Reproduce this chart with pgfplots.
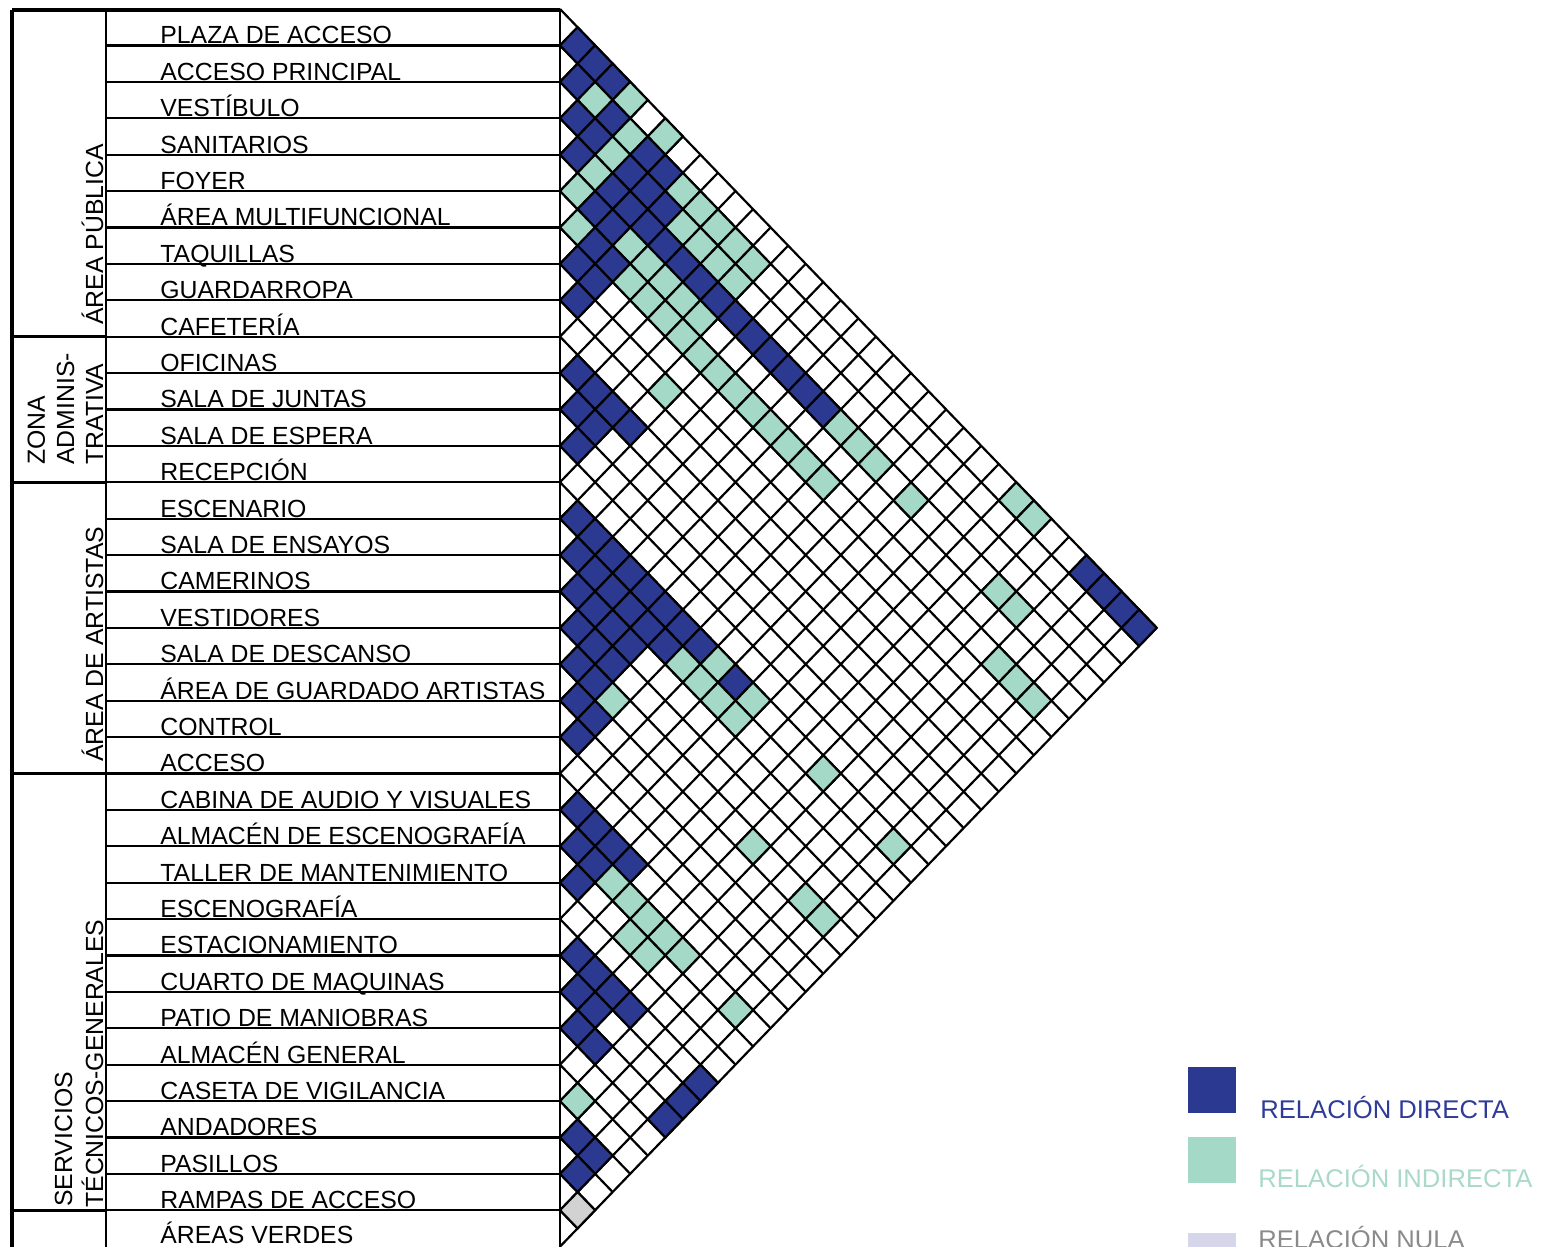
\documentclass[border=0pt]{standalone}
\usepackage{pgfplots}
\pgfplotsset{compat=1.18}
\usepackage{pgfplotstable}
\usepackage{fontspec}
\setmainfont{Liberation Sans}

\definecolor{dblue}{HTML}{2B3990}
\definecolor{lteal}{HTML}{A3D9C6}
\definecolor{nula}{HTML}{D6D6EA}
\definecolor{gcell}{HTML}{D2D2D2}
\definecolor{bluetxt}{HTML}{2E3B98}
\definecolor{tealtxt}{HTML}{A9D9C8}
\definecolor{graytxt}{HTML}{8A8A8A}

% relation cells: i = upper row, j = lower row (0 = PLAZA DE ACCESO ... 33 = AREAS VERDES)
% b = directa, t = indirecta, g = nula; empty cells are not listed
\pgfplotstableread{
i j c
0 1 b
0 2 b
0 3 b
0 4 t
0 6 t
0 26 t
0 27 t
0 30 b
0 31 b
0 32 b
0 33 b
1 2 b
1 3 t
1 4 b
1 5 t
1 6 b
1 7 b
1 8 t
1 9 t
1 10 t
1 11 t
1 12 t
2 3 b
2 4 b
2 5 t
2 6 b
2 7 b
2 8 b
2 9 t
2 10 t
2 11 t
2 12 t
3 4 b
3 5 t
3 6 b
3 7 b
3 8 b
3 9 b
3 10 b
3 11 b
3 12 b
3 13 b
3 14 b
3 15 b
3 16 b
3 17 b
3 18 b
3 19 t
3 20 t
3 21 t
3 23 t
3 28 t
3 29 t
4 5 t
4 6 b
4 7 b
4 8 t
4 9 t
4 10 t
4 11 t
4 12 t
5 6 t
5 7 b
5 8 b
5 9 t
5 10 t
5 11 t
5 12 t
5 13 t
5 14 t
5 15 t
5 16 t
5 17 t
5 18 t
5 19 t
5 20 t
5 30 t
5 31 t
5 32 t
6 7 b
6 8 b
7 8 b
7 13 t
9 10 b
9 11 b
9 12 b
9 13 b
10 11 b
10 12 b
11 12 b
13 14 b
13 15 b
13 16 b
13 17 b
13 18 b
13 19 b
13 20 b
13 21 b
13 22 t
13 23 b
13 24 t
13 28 t
13 32 t
14 15 b
14 16 b
14 17 b
14 18 b
14 19 b
14 20 b
14 21 t
14 22 t
14 23 t
14 24 t
15 16 b
15 17 b
15 18 b
15 19 b
16 17 b
16 18 b
16 19 b
17 18 b
17 19 b
17 20 t
17 28 t
17 31 t
17 32 t
18 19 b
18 20 b
19 20 b
21 22 b
21 23 b
21 24 b
21 25 b
22 23 b
22 24 b
22 25 t
22 26 t
22 27 t
22 28 t
22 29 t
22 32 t
23 24 b
23 27 t
23 28 t
25 26 b
25 27 b
25 28 b
25 29 b
25 33 b
26 27 b
26 28 b
26 33 b
27 28 b
27 29 b
27 33 b
29 30 t
30 31 b
30 32 b
31 32 b
32 33 g
}\cells

\begin{document}
\begin{tikzpicture}
% table, labels and legend, in pixel units of the original sheet
\begin{axis}[
  x=0.5pt, y=0.5pt, y dir=reverse,
  xmin=0, xmax=1554, ymin=0, ymax=1247,
  hide axis, clip=false,
  anchor=origin, at={(0pt,0pt)},
]
% frame
\draw[line width=1.6pt] (axis cs:12,10) -- (axis cs:560,10);
\draw[line width=1.8pt] (axis cs:12,10) -- (axis cs:12,1247);
\draw[line width=1.4pt] (axis cs:106,10) -- (axis cs:106,1247);
\draw[line width=1.4pt] (axis cs:560,10) -- (axis cs:560,1247);
% row lines
\pgfplotsinvokeforeach{1,...,33}{
  \draw[line width=1.1pt] (axis cs:106,{9+36.4*#1}) -- (axis cs:560,{9+36.4*#1});
}
% group lines
\pgfplotsinvokeforeach{9,13,21,33}{
  \draw[line width=1.4pt] (axis cs:12,{9+36.4*#1}) -- (axis cs:106,{9+36.4*#1});
}
% row names
\begin{scope}[every node/.style={anchor=base west, inner sep=0pt, font=\fontsize{12.4}{14}\selectfont}]
\node at (axis cs:160,43) {PLAZA DE ACCESO};
\node at (axis cs:160,80) {ACCESO PRINCIPAL};
\node at (axis cs:160,116) {VESTÍBULO};
\node at (axis cs:160,153) {SANITARIOS};
\node at (axis cs:160,189) {FOYER};
\node at (axis cs:160,225) {ÁREA MULTIFUNCIONAL};
\node at (axis cs:160,262) {TAQUILLAS};
\node at (axis cs:160,298) {GUARDARROPA};
\node at (axis cs:160,335) {CAFETERÍA};
\node at (axis cs:160,371) {OFICINAS};
\node at (axis cs:160,407) {SALA DE JUNTAS};
\node at (axis cs:160,444) {SALA DE ESPERA};
\node at (axis cs:160,480) {RECEPCIÓN};
\node at (axis cs:160,517) {ESCENARIO};
\node at (axis cs:160,553) {SALA DE ENSAYOS};
\node at (axis cs:160,589) {CAMERINOS};
\node at (axis cs:160,626) {VESTIDORES};
\node at (axis cs:160,662) {SALA DE DESCANSO};
\node at (axis cs:160,699) {ÁREA DE GUARDADO ARTISTAS};
\node at (axis cs:160,735) {CONTROL};
\node at (axis cs:160,771) {ACCESO};
\node at (axis cs:160,808) {CABINA DE AUDIO Y VISUALES};
\node at (axis cs:160,844) {ALMACÉN DE ESCENOGRAFÍA};
\node at (axis cs:160,881) {TALLER DE MANTENIMIENTO};
\node at (axis cs:160,917) {ESCENOGRAFÍA};
\node at (axis cs:160,953) {ESTACIONAMIENTO};
\node at (axis cs:160,990) {CUARTO DE MAQUINAS};
\node at (axis cs:160,1026) {PATIO DE MANIOBRAS};
\node at (axis cs:160,1063) {ALMACÉN GENERAL};
\node at (axis cs:160,1099) {CASETA DE VIGILANCIA};
\node at (axis cs:160,1135) {ANDADORES};
\node at (axis cs:160,1172) {PASILLOS};
\node at (axis cs:160,1208) {RAMPAS DE ACCESO};
\node at (axis cs:160,1243) {ÁREAS VERDES};
% group names
\node[rotate=90] at (axis cs:103,325) {ÁREA PÚBLICA};
\node[rotate=90] at (axis cs:45,465) {ZONA};
\node[rotate=90] at (axis cs:74,465) {ADMINIS-};
\node[rotate=90] at (axis cs:103,465) {TRATIVA};
\node[rotate=90] at (axis cs:103,762) {ÁREA DE ARTISTAS};
\node[rotate=90] at (axis cs:72,1207) {SERVICIOS};
\node[rotate=90] at (axis cs:103,1208) {TÉCNICOS-GENERALES};
\end{scope}
% legend
\fill[dblue] (axis cs:1188,1067) rectangle (axis cs:1236,1113);
\fill[lteal] (axis cs:1188,1137) rectangle (axis cs:1236,1183);
\fill[nula] (axis cs:1188,1233) rectangle (axis cs:1236,1280);
\begin{scope}[every node/.style={anchor=base west, inner sep=0pt, font=\fontsize{12.8}{15}\selectfont}]
\node[text=bluetxt] at (axis cs:1260,1118) {RELACIÓN DIRECTA};
\node[text=tealtxt] at (axis cs:1258,1187) {RELACIÓN INDIRECTA};
\node[text=graytxt] at (axis cs:1258,1248) {RELACIÓN NULA};
\end{scope}
\end{axis}

% relation triangle: x = j-i, y = i+j+1 (half-row units)
\begin{axis}[
  x=8.775pt, y=9.1pt, y dir=reverse,
  xmin=0, xmax=34, ymin=0, ymax=68,
  hide axis, clip=false,
  anchor=origin, at={(280pt,-4.5pt)},
]
\pgfplotsinvokeforeach{0,...,33}{
  \draw[line width=1.1pt] (axis cs:0,{2*#1}) -- (axis cs:{34-#1},{34+#1});
}
\pgfplotsinvokeforeach{1,...,34}{
  \draw[line width=1.1pt] (axis cs:0,{2*#1}) -- (axis cs:#1,#1);
}
\addplot[
  scatter, only marks,
  scatter src=explicit symbolic,
  scatter/classes={
    b={mark=square*, fill=dblue, draw=black},
    t={mark=square*, fill=lteal, draw=black},
    g={mark=square*, fill=gcell, draw=black}},
  mark size=6.435pt,
  mark options={xscale=0.9643, rotate=45, line width=1.1pt},
] table[x expr=\thisrow{j}-\thisrow{i}, y expr=\thisrow{i}+\thisrow{j}+1, meta=c] {\cells};
\end{axis}
\pgfresetboundingbox
\path (0pt,0pt) rectangle (777pt,-623.5pt);
\end{tikzpicture}
\end{document}
